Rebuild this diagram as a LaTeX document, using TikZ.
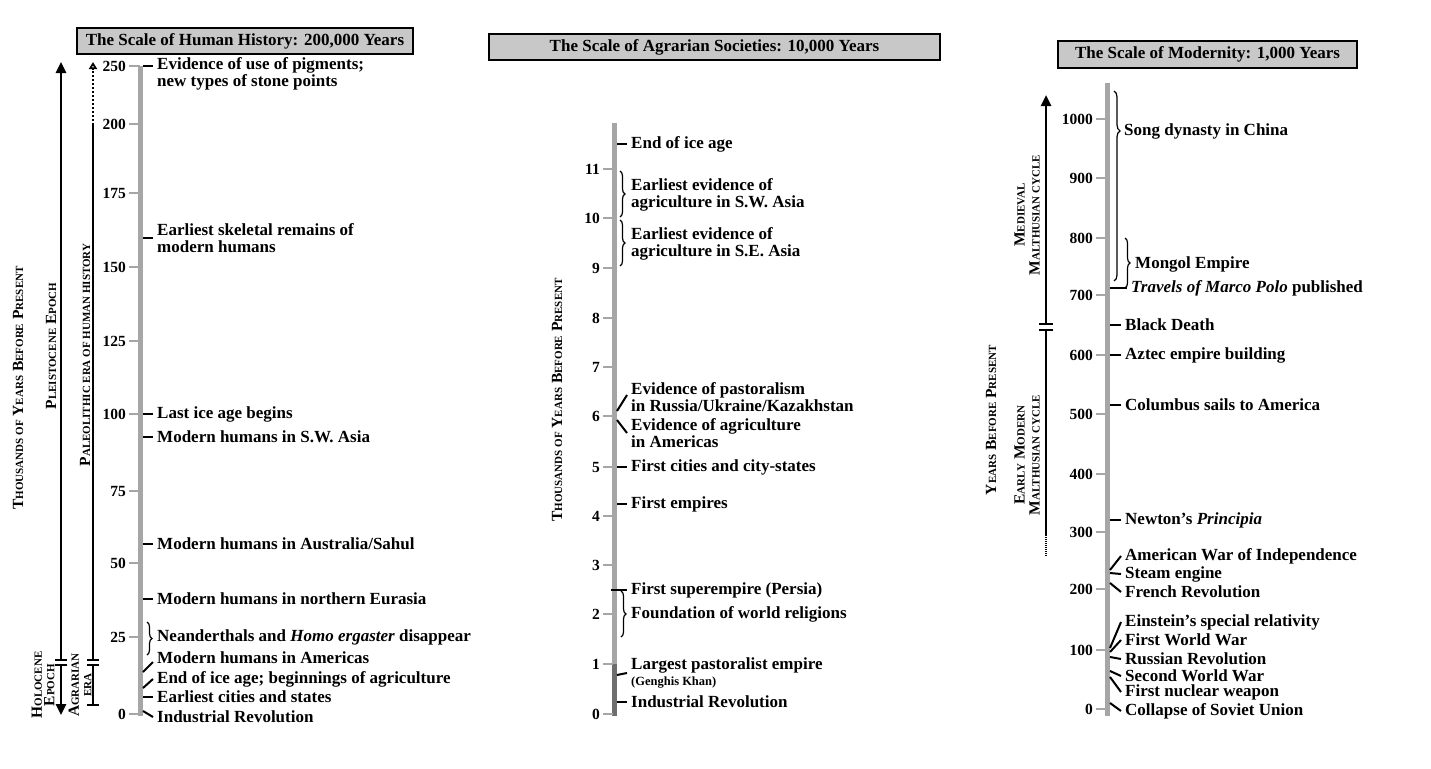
\documentclass[tikz,border=0pt]{standalone}
\usepackage{fontspec}
\setmainfont{Liberation Serif}
\usetikzlibrary{arrows.meta,decorations.pathreplacing}
\definecolor{axisgray}{HTML}{A6A6A6}
\definecolor{darkaxis}{HTML}{6E6E6E}
\definecolor{headgray}{HTML}{C8C8C8}
\newcommand\smc[1]{{\fontsize{11}{12}\selectfont #1}}
\begin{document}
\begin{tikzpicture}[x=1pt,y=-1pt,
    every node/.style={font=\fontsize{17}{16.5}\selectfont\bfseries, inner sep=0pt},
    header/.style={draw, line width=2pt, fill=headgray, minimum height=26pt},
    axis/.style={axisgray, line width=5pt},
    tickline/.style={axisgray, line width=2pt},
    evtick/.style={black, line width=2pt},
    num/.style={anchor=east, font=\fontsize{15.5}{16}\selectfont\bfseries},
    evt/.style={anchor=west, align=left, inner xsep=4pt, inner ysep=0pt},
    brc/.style={decorate, decoration={brace, amplitude=5pt}, line width=1.2pt},
    era/.style={line width=2.5pt},
    bars/.style={line width=1.5pt},
    sidelabel/.style={rotate=90, align=center, font=\fontsize{15.5}{15}\selectfont\bfseries},
    tightlabel/.style={sidelabel, font=\fontsize{15.5}{12.5}\selectfont\bfseries}]

  \useasboundingbox (0,0) rectangle (1431,768);

  % human history
  \node[header, minimum width=336pt] (h1) at (245,41) {The Scale of Human History: 200,000 Years};
  \draw[axis] (140,66) -- (140,716);
  \foreach \v/\y in {250/66,200/124,175/193,150/267,125/341,100/414,75/491,50/563,25/637,0/714}{
    \node[num] (n\v) at (126,\y) {\v};
    \draw[tickline] (n\v.east) ++(3,0) -- ++(11,0);
  }
  \node[evt] (e1) at (153,74) {Evidence of use of pigments;\\new types of stone points};
  \draw[evtick] (143,66) -- ([yshift=8pt]e1.west);
  \node[evt] (e2) at (153,238) {Earliest skeletal remains of\\modern humans};
  \draw[evtick] (143,238) -- (e2.west);
  \node[evt] (e3) at (153,414) {Last ice age begins};
  \draw[evtick] (143,414) -- (e3.west);
  \node[evt] (e4) at (153,437) {Modern humans in S.W. Asia};
  \draw[evtick] (143,437) -- (e4.west);
  \node[evt] (e5) at (153,544) {Modern humans in Australia/Sahul};
  \draw[evtick] (143,544) -- (e5.west);
  \node[evt] (e6) at (153,599) {Modern humans in northern Eurasia};
  \draw[evtick] (143,599) -- (e6.west);
  \node[evt] (e7) at (153,637) {Neanderthals and \textit{Homo ergaster} disappear};
  \draw[brc] (147,622) -- (147,655);
  \node[evt] (e8) at (153,658) {Modern humans in Americas};
  \draw[evtick] (143,672) -- ([yshift=-4pt]e8.west);
  \node[evt] (e9) at (153,679) {End of ice age; beginnings of agriculture};
  \draw[evtick] (143,688) -- (e9.west);
  \node[evt] (e10) at (153,697) {Earliest cities and states};
  \draw[evtick] (143,697) -- (e10.west);
  \node[evt] (e11) at (153,717) {Industrial Revolution};
  \draw[evtick] (143,711) -- (e11.west);

  % epochs and eras
  \draw[era, -{Triangle[width=10pt,length=11pt]}] (61,660) -- (61,62);
  \draw[bars] (55,660) -- (67,660) (55,665) -- (67,665);
  \draw[era, -{Triangle[width=10pt,length=11pt]}] (61,665) -- (61,715);
  \draw[era] (93,660) -- (93,125);
  \draw[line width=2pt, dash pattern=on 2pt off 2pt, -{Triangle[open,width=8pt,length=7pt]}] (93,125) -- (93,62);
  \draw[bars] (87,660) -- (99,660) (87,665) -- (99,665);
  \draw[era, -{Bar[width=12pt]}] (93,665) -- (93,706);
  \node[sidelabel] (yb1) at (18,388) {T\smc{HOUSANDS OF} Y\smc{EARS} B\smc{EFORE} P\smc{RESENT}};
  \node[sidelabel] (ple) at (51,346) {P\smc{LEISTOCENE} E\smc{POCH}};
  \node[tightlabel] (hol) at (43,685) {H\smc{OLOCENE}\\E\smc{POCH}};
  \node[sidelabel] (pal) at (85,355) {P\smc{ALEOLITHIC ERA OF HUMAN HISTORY}};
  \node[tightlabel] (agr) at (80,685) {A\smc{GRARIAN}\\\smc{ERA}};

  % agrarian societies
  \node[header, minimum width=451pt] (h2) at (714.5,47.5) {The Scale of Agrarian Societies: 10,000 Years};
  \draw[axis] (614,123) -- (614,664);
  \draw[axis, darkaxis] (614,664) -- (614,716);
  \foreach \v/\y in {11/169,10/218,9/268,8/318,7/367,6/416,5/467,4/516,3/565,2/614,1/664,0/714}{
    \node[num] (m\v) at (600,\y) {\v};
    \draw[tickline] (m\v.east) ++(3,0) -- ++(10,0);
  }
  \node[evt] (f1) at (627,144) {End of ice age};
  \draw[evtick] (617,144) -- (f1.west);
  \draw[brc] (620,171) -- (620,217);
  \node[evt] (f2) at (627,195) {Earliest evidence of\\agriculture in S.W. Asia};
  \draw[brc] (620,220) -- (620,266);
  \node[evt] (f3) at (627,244) {Earliest evidence of\\agriculture in S.E. Asia};
  \node[evt] (f4) at (627,397) {Evidence of pastoralism\\in Russia/Ukraine/Kazakhstan};
  \draw[evtick] (617,411) -- ([yshift=2pt]f4.west);
  \node[evt] (f5) at (627,433) {Evidence of agriculture\\in Americas};
  \draw[evtick] (617,420) -- (f5.west);
  \node[evt] (f6) at (627,467) {First cities and city-states};
  \draw[evtick] (617,467) -- (f6.west);
  \node[evt] (f7) at (627,504) {First empires};
  \draw[evtick] (617,504) -- (f7.west);
  \node[evt] (f8) at (627,590) {First superempire (Persia)};
  \draw[evtick] (611,590) -- (f8.west);
  \draw[brc] (621,591) -- (621,637);
  \node[evt] (f9) at (627,614) {Foundation of world religions};
  \node[evt] (f10) at (627,673) {Largest pastoralist empire\\{\fontsize{12.5}{12}\selectfont(Genghis Khan)}};
  \draw[evtick] (617,675) -- (f10.west);
  \node[evt] (f11) at (627,702) {Industrial Revolution};
  \draw[evtick] (617,702) -- (f11.west);
  \node[sidelabel] (yb2) at (557,400) {T\smc{HOUSANDS OF} Y\smc{EARS} B\smc{EFORE} P\smc{RESENT}};

  % modernity
  \node[header, minimum width=299pt, minimum height=27pt] (h3) at (1207.5,54.5) {The Scale of Modernity: 1,000 Years};
  \draw[axis] (1107,83) -- (1107,716);
  \foreach \v/\y in {1000/119,900/178,800/238,700/295,600/355,500/414,400/474,300/532,200/589,100/650,0/709}{
    \node[num] (k\v) at (1093,\y) {\v};
    \draw[tickline] (k\v.east) ++(3,0) -- ++(10,0);
  }
  \draw[brc, decoration={brace, amplitude=6pt, aspect=0.21}] (1114,91) -- (1114,281);
  \node[evt] (g1) at (1120,131) {Song dynasty in China};
  \draw[brc] (1125,238) -- (1125,288);
  \node[evt] (g2) at (1131,264) {Mongol Empire};
  \node[evt] (g3) at (1127,288) {\textit{Travels of Marco Polo} published};
  \draw[evtick] (1110,288) -- (g3.west);
  \node[evt] (g4) at (1121,325) {Black Death};
  \draw[evtick] (1110,325) -- (g4.west);
  \node[evt] (g5) at (1121,355) {Aztec empire building};
  \draw[evtick] (1110,355) -- (g5.west);
  \node[evt] (g6) at (1121,405) {Columbus sails to America};
  \draw[evtick] (1110,405) -- (g6.west);
  \node[evt] (g7) at (1121,520) {Newton’s \textit{Principia}};
  \draw[evtick] (1110,520) -- (g7.west);
  \node[evt] (g8) at (1121,556) {American War of Independence};
  \draw[evtick] (1110,570) -- (g8.west);
  \node[evt] (g9) at (1121,574) {Steam engine};
  \draw[evtick] (1110,573) -- (g9.west);
  \node[evt] (g10) at (1121,592) {French Revolution};
  \draw[evtick] (1110,583) -- (g10.west);
  \node[evt] (g11) at (1121,622) {Einstein’s special relativity};
  \draw[evtick] (1110,648) -- (g11.west);
  \node[evt] (g12) at (1121,640) {First World War};
  \draw[evtick] (1110,652) -- (g12.west);
  \node[evt] (g13) at (1121,659) {Russian Revolution};
  \draw[evtick] (1110,657) -- (g13.west);
  \node[evt] (g14) at (1121,676) {Second World War};
  \draw[evtick] (1110,671) -- (g14.west);
  \node[evt] (g15) at (1121,692) {First nuclear weapon};
  \draw[evtick] (1110,677) -- (g15.west);
  \node[evt] (g16) at (1121,711) {Collapse of Soviet Union};
  \draw[evtick] (1110,703) -- (g16.west);

  % malthusian cycles
  \draw[era, -{Triangle[width=10pt,length=11pt]}] (1046,324) -- (1046,95);
  \draw[bars] (1039,324) -- (1053,324) (1039,330) -- (1053,330);
  \draw[era] (1046,330) -- (1046,535);
  \draw[era, dash pattern=on 1pt off 1pt] (1046,535) -- (1046,556);
  \node[sidelabel] (med) at (1027,215) {M\smc{EDIEVAL}\\M\smc{ALTHUSIAN CYCLE}};
  \node[sidelabel] (ear) at (1027,455) {E\smc{ARLY} M\smc{ODERN}\\M\smc{ALTHUSIAN CYCLE}};
  \node[sidelabel] (yb3) at (991,420) {Y\smc{EARS} B\smc{EFORE} P\smc{RESENT}};
\end{tikzpicture}
\end{document}
